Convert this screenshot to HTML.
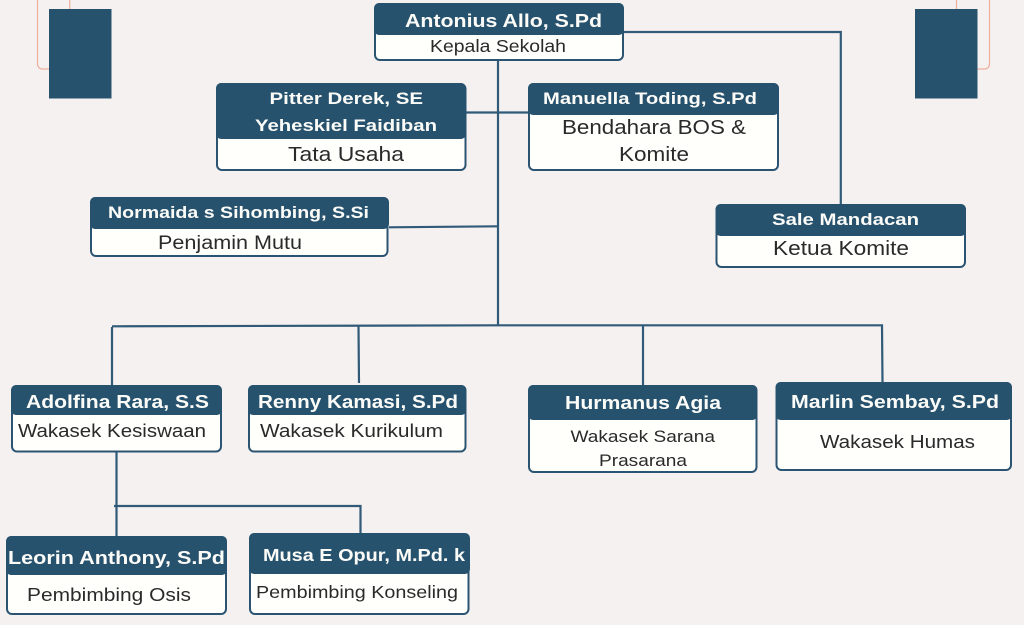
<!DOCTYPE html>
<html>
<head>
<meta charset="utf-8">
<style>
html,body{margin:0;padding:0;background:#f4f1f0;}
svg{display:block;}
text{font-family:"Liberation Sans",sans-serif;}
.t{font-weight:700;fill:#fbfbf8;font-size:17px;}
.s{fill:#2a2a2a;}
.b{fill:#fffffb;stroke:#2b5472;stroke-width:2;}
.h{fill:#27526e;}
.l{fill:none;stroke:#315a78;stroke-width:2.2;}
</style>
</head>
<body>
<svg width="1024" height="625" viewBox="0 0 1024 625" xmlns="http://www.w3.org/2000/svg">
<rect width="1024" height="625" fill="#f4f1f0"/>
<path d="M37.5 0V64a5 5 0 0 0 5 5H50M69.7 0V10" fill="none" stroke="#f0ae9c" stroke-width="1.2"/>
<path d="M989.5 0V64a5 5 0 0 1-5 5H977M956.5 0V10" fill="none" stroke="#f0ae9c" stroke-width="1.2"/>
<rect x="49" y="9" width="62.5" height="89.5" fill="#27526e"/>
<rect x="915" y="9" width="62.5" height="89.5" fill="#27526e"/>

<path class="l" d="M498 60V325"/>
<path class="l" d="M466 112.5H528"/>
<path class="l" d="M389 227.300L498 226.300"/>
<path class="l" d="M624 32H840.800V204"/>
<path class="l" d="M112 385V327M112 326.300L498 325.300H882L882.500 382"/>
<path class="l" d="M358.500 326L359 383"/>
<path class="l" d="M643 325V385"/>
<path class="l" d="M116.500 452V536"/>
<path class="l" d="M114 506H360.500V533"/>

<rect class="b" x="375" y="4" width="248" height="56" rx="5"/><rect class="h" x="374" y="3" width="250" height="32" rx="5"/>
<rect class="b" x="217" y="84" width="248.500" height="86" rx="5"/><rect class="h" x="216" y="83" width="250" height="56" rx="5"/>
<rect class="b" x="529" y="84" width="249" height="86" rx="5"/><rect class="h" x="528" y="83" width="251" height="32" rx="5"/>
<rect class="b" x="91" y="198" width="296.500" height="58" rx="5"/><rect class="h" x="90" y="197" width="299" height="32" rx="5"/>
<rect class="b" x="716.500" y="205" width="248.500" height="62" rx="5"/><rect class="h" x="715.500" y="204" width="250.500" height="32" rx="5"/>
<rect class="b" x="12" y="386" width="209" height="65.500" rx="5"/><rect class="h" x="11" y="385" width="211" height="30" rx="5"/>
<rect class="b" x="249" y="386" width="216.500" height="65.500" rx="5"/><rect class="h" x="248" y="385" width="218.500" height="30" rx="5"/>
<rect class="b" x="529" y="386" width="227.500" height="86" rx="5"/><rect class="h" x="528" y="385" width="229.500" height="35" rx="5"/>
<rect class="b" x="776.500" y="383" width="234.500" height="87" rx="5"/><rect class="h" x="775.500" y="382" width="236.500" height="38" rx="5"/>
<rect class="b" x="7" y="537" width="219" height="77" rx="5"/><rect class="h" x="6" y="536" width="221" height="39" rx="5"/>
<rect class="b" x="250" y="534" width="218.500" height="80" rx="5"/><rect class="h" x="249" y="533" width="221" height="41" rx="5"/>

<g lengthAdjust="spacingAndGlyphs">
<text class="t" lengthAdjust="spacingAndGlyphs" x="405" y="27" textLength="197" style="font-size:18px">Antonius Allo, S.Pd</text>
<text class="s" lengthAdjust="spacingAndGlyphs" x="430" y="52" textLength="136" font-size="17.500">Kepala Sekolah</text>
<text class="t" lengthAdjust="spacingAndGlyphs" x="269.500" y="104" textLength="153.500">Pitter Derek, SE</text>
<text class="t" lengthAdjust="spacingAndGlyphs" x="255" y="131" textLength="182">Yeheskiel Faidiban</text>
<text class="s" lengthAdjust="spacingAndGlyphs" x="288" y="161" textLength="116" font-size="20.500">Tata Usaha</text>
<text class="t" lengthAdjust="spacingAndGlyphs" x="543" y="104" textLength="214">Manuella Toding, S.Pd</text>
<text class="s" lengthAdjust="spacingAndGlyphs" x="562" y="134" textLength="184" font-size="20.500">Bendahara BOS &amp;</text>
<text class="s" lengthAdjust="spacingAndGlyphs" x="619" y="161" textLength="70" font-size="20.500">Komite</text>
<text class="t" lengthAdjust="spacingAndGlyphs" x="108" y="218" textLength="261">Normaida s Sihombing, S.Si</text>
<text class="s" lengthAdjust="spacingAndGlyphs" x="158" y="249" textLength="144" font-size="19">Penjamin Mutu</text>
<text class="t" lengthAdjust="spacingAndGlyphs" x="772" y="225" textLength="147">Sale Mandacan</text>
<text class="s" lengthAdjust="spacingAndGlyphs" x="773" y="255" textLength="136" font-size="20.500">Ketua Komite</text>
<text class="t" lengthAdjust="spacingAndGlyphs" x="26" y="408" textLength="183" style="font-size:18.500px">Adolfina Rara, S.S</text>
<text class="s" lengthAdjust="spacingAndGlyphs" x="18" y="437" textLength="188" font-size="18.500">Wakasek Kesiswaan</text>
<text class="t" lengthAdjust="spacingAndGlyphs" x="258" y="408" textLength="200" style="font-size:18.500px">Renny Kamasi, S.Pd</text>
<text class="s" lengthAdjust="spacingAndGlyphs" x="260" y="437" textLength="183" font-size="18.500">Wakasek Kurikulum</text>
<text class="t" lengthAdjust="spacingAndGlyphs" x="565" y="409" textLength="156" style="font-size:18.500px">Hurmanus Agia</text>
<text class="s" lengthAdjust="spacingAndGlyphs" x="570.500" y="442" textLength="144.500" font-size="17">Wakasek Sarana</text>
<text class="s" lengthAdjust="spacingAndGlyphs" x="599" y="466" textLength="88" font-size="17">Prasarana</text>
<text class="t" lengthAdjust="spacingAndGlyphs" x="791" y="408" textLength="208" style="font-size:18.500px">Marlin Sembay, S.Pd</text>
<text class="s" lengthAdjust="spacingAndGlyphs" x="820" y="448" textLength="155" font-size="18.500">Wakasek Humas</text>
<text class="t" lengthAdjust="spacingAndGlyphs" x="8" y="564" textLength="217" style="font-size:18.500px">Leorin Anthony, S.Pd</text>
<text class="s" lengthAdjust="spacingAndGlyphs" x="27" y="601" textLength="164" font-size="18.500">Pembimbing Osis</text>
<text class="t" lengthAdjust="spacingAndGlyphs" x="263" y="561" textLength="202" style="font-size:17.500px">Musa E Opur, M.Pd. k</text>
<text class="s" lengthAdjust="spacingAndGlyphs" x="256" y="598" textLength="202" font-size="17.500">Pembimbing Konseling</text>
</g>
</svg>
</body>
</html>
